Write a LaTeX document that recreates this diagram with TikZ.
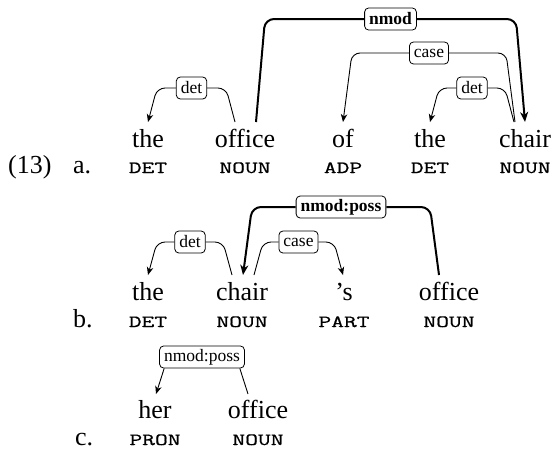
\documentclass[tikz,border=0pt]{standalone}
\usepackage{fontspec}
\usepackage{graphicx}
\setmainfont{Liberation Serif}
\newfontfamily\tagfont{Latin Modern Mono}[FakeBold=0.6]
\usetikzlibrary{calc,arrows.meta}
\newcommand\tagtext[1]{\scalebox{1}[0.69]{#1}}
\tikzset{
  word/.style={anchor=base, inner sep=0pt, font=\fontsize{26}{30}\selectfont},
  marker/.style={anchor=base west, inner sep=0pt, font=\fontsize{26}{30}\selectfont},
  tagn/.style={anchor=base, inner sep=0pt, font=\tagfont\fontsize{24.8}{28}\selectfont},
  tlbl/.style={draw, rounded corners=4pt, fill=white, line width=0.8pt, inner xsep=4.5pt, inner ysep=0pt, minimum height=22pt, font=\fontsize{17.5}{20}\selectfont},
  blbl/.style={tlbl, font=\fontsize{17.5}{20}\selectfont\bfseries},
  tarc/.style={line width=0.9pt, rounded corners=8pt},
  barc/.style={line width=2pt, rounded corners=9pt},
  ttip/.style={-{Stealth[length=8pt,width=6.5pt,inset=2.5pt]}},
  btip/.style={-{Stealth[length=10pt,width=8pt,inset=3pt]}},
}
% #1 name, #2 head node, #3 head dx, #4 dep node, #5 dep dx, #6 y of top, #7 t/b, #8 text
\newcommand\DepArc[8]{%
  \coordinate (#1h) at ($(#2.base)+(#3,-25)$);
  \coordinate (#1d) at ($(#4.base)+(#5,-25)$);
  \coordinate (#1y) at (0,#6);
  \coordinate (#1m) at ($(#1h)!0.5!(#1d)$);
  \node[#7lbl] (#1) at (#1m |- #1y) {#8};
  \draw[#7arc] (#1) -- ($(#1h |- #1y)!9pt!(#1d |- #1y)$) -- (#1h);
  \draw[#7arc,#7tip] (#1) -- ($(#1d |- #1y)!9pt!(#1h |- #1y)$) -- (#1d);
}
\begin{document}
\begin{tikzpicture}[x=1pt,y=-1pt]
\useasboundingbox (0,0) rectangle (553,451);
% row a
\node[marker] (num) at (8,173) {(13)};
\node[marker] (ma) at (73,173) {a.};
\node[word] (a1) at (148,147) {the};
\node[word] (a2) at (245,147) {office};
\node[word] (a3) at (343,147) {of};
\node[word] (a4) at (430,147) {the};
\node[word] (a5) at (525,147) {chair};
\node[tagn] (ta1) at (148,173) {\tagtext{DET}};
\node[tagn] (ta2) at (245,173) {\tagtext{NOUN}};
\node[tagn] (ta3) at (343,173) {\tagtext{ADP}};
\node[tagn] (ta4) at (430,173) {\tagtext{DET}};
\node[tagn] (ta5) at (525,173) {\tagtext{NOUN}};
\DepArc{la1}{a2}{-10}{a1}{0}{88}{t}{det}
\DepArc{la2}{a2}{11}{a5}{0}{19}{b}{nmod}
\DepArc{la3}{a5}{-10}{a3}{0}{53}{t}{case}
\DepArc{la4}{a5}{-11}{a4}{0}{88}{t}{det}
% row b
\node[marker] (mb) at (73,327) {b.};
\node[word] (b1) at (148,300) {the};
\node[word] (b2) at (242,300) {chair};
\node[word] (b3) at (344,300) {’s};
\node[word] (b4) at (449,300) {office};
\node[tagn] (tb1) at (148,327) {\tagtext{DET}};
\node[tagn] (tb2) at (242,327) {\tagtext{NOUN}};
\node[tagn] (tb3) at (344,327) {\tagtext{PART}};
\node[tagn] (tb4) at (449,327) {\tagtext{NOUN}};
\DepArc{lb1}{b2}{-10}{b1}{0}{242}{t}{det}
\DepArc{lb2}{b2}{12}{b3}{-1}{242}{t}{case}
\DepArc{lb3}{b4}{-10}{b2}{1}{207}{b}{nmod:poss}
% row c
\node[marker] (mc) at (75,445) {c.};
\node[word] (c1) at (155,418) {her};
\node[word] (c2) at (258,418) {office};
\node[tagn] (tc1) at (155,445) {\tagtext{PRON}};
\node[tagn] (tc2) at (258,445) {\tagtext{NOUN}};
\coordinate (lc1h) at ($(c2.base)+(-10,-24)$);
\coordinate (lc1d) at ($(c1.base)+(1,-24)$);
\node[tlbl] (lc1) at (202,357) {nmod:poss};
\draw[tarc] ($(lc1.south east)+(-5,0)$) -- (lc1h);
\draw[tarc,ttip] ($(lc1.south west)+(5,0)$) -- (lc1d);
\end{tikzpicture}
\end{document}
